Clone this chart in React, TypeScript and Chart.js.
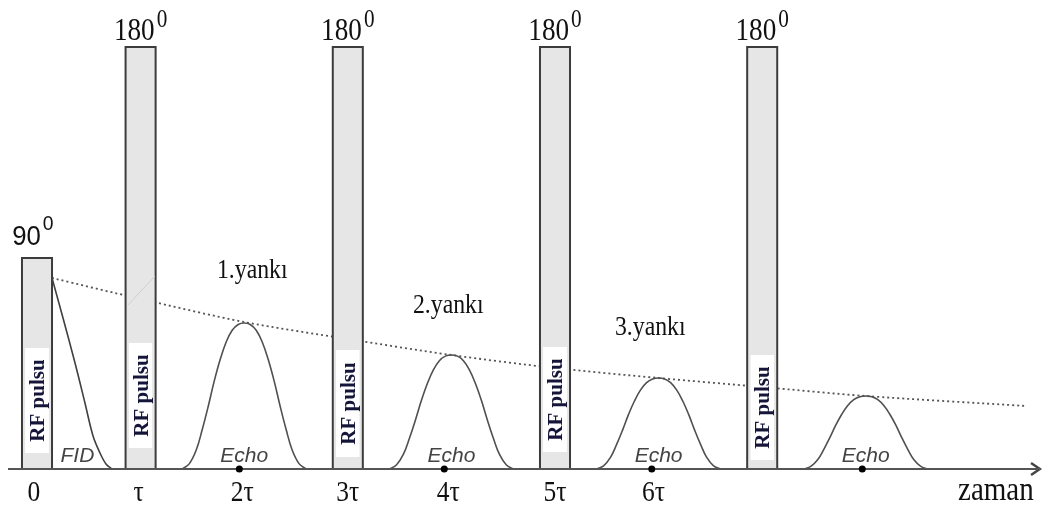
import React, { useEffect, useRef } from "react";
import { Chart, registerables } from "chart.js";

Chart.register(...registerables);

// Time axis in units of τ, amplitude axis in arbitrary signal units (baseline = 0)
const pulseTimes = [0, 1, 3, 5, 7];
const pulseHeights = [211, 422, 422, 422, 422];
const pulseAngles = ["90", "180", "180", "180", "180"];
const angleLabelT = [-0.04, 1, 3, 5, 7];
const pulseWidth = 0.29;
const labelBoxLow = [16, 21, 12, 17, 9];
const labelBoxHigh = [121, 126, 119, 122, 114];
const labelBoxWidth = 0.23;
const pulseText = "RF pulsu";

const echoTimes = [2, 4, 6, 8];
const echoAmplitudes = [146, 114, 91, 73];
const echoDots = [1.953, 3.931, 5.934, 7.966];
const echoShapeOffsets = [
  -0.598, -0.531, -0.463, -0.405, -0.347, -0.29, -0.232, -0.174, -0.116, -0.058, 0,
  0.058, 0.116, 0.174, 0.232, 0.29, 0.347, 0.405, 0.463, 0.531, 0.598,
];
const echoShapeValues = [
  0, 0.035, 0.13, 0.27, 0.43, 0.6, 0.75, 0.87, 0.95, 0.99, 1,
  0.99, 0.95, 0.87, 0.75, 0.6, 0.43, 0.27, 0.13, 0.035, 0,
];

const yankiLabels = ["1.yankı", "2.yankı", "3.yankı"];
const yankiT = [1.737, 3.629, 5.579];
const yankiV = [191, 156, 134];

const fidT = [0.145, 0.251, 0.367, 0.463, 0.541, 0.608, 0.666, 0.724];
const fidV = [191, 151, 106, 66, 33, 16, 5, 0];
const fidLabelT = 0.39;

const decayT = [0.145, 1, 2, 3, 4, 5, 6, 7, 8, 9.55];
const decayV = [191, 170, 147, 130, 114, 101, 91, 82, 73, 63];

const faintT = [0.878, 1.139];
const faintV = [164, 193];

const tickLabels = ["0", "τ", "2τ", "3τ", "4τ", "5τ", "6τ"];
const tickPositions = [-0.03, 0.98, 1.98, 3.0, 3.97, 5.0, 5.95];
const axisTitle = "zaman";
const axisTitleT = 8.89;
const axisRange = [-0.28, 9.68];
const arrowBackT = 9.595;
const arrowHalf = 6;

const X_MIN = -37 / 103.6;
const X_MAX = (1044 - 37) / 103.6;
const Y_MIN = -43;
const Y_MAX = 469;

const PULSE_EDGE = "#3c3c3c";
const PULSE_FILL = "#e6e6e6";
const CURVE = "#505050";

function drawText(
  ctx: CanvasRenderingContext2D,
  text: string,
  x: number,
  y: number,
  font: string,
  color: string,
  align: CanvasTextAlign,
  sx: number
) {
  ctx.save();
  ctx.translate(x, y);
  ctx.scale(sx, 1);
  ctx.font = font;
  ctx.fillStyle = color;
  ctx.textAlign = align;
  ctx.textBaseline = "alphabetic";
  ctx.fillText(text, 0, 0);
  ctx.restore();
}

const textPlugin = {
  id: "diagramTexts",
  afterDatasetsDraw(chart: any) {
    const ctx: CanvasRenderingContext2D = chart.ctx;
    const xs = chart.scales.x;
    const ys = chart.scales.y;
    const px = (t: number) => xs.getPixelForValue(t);
    const py = (v: number) => ys.getPixelForValue(v);

    // Pulse angle labels
    pulseAngles.forEach((a, i) => {
      const sans = i === 0;
      const mainFont = sans ? "28px 'Liberation Sans'" : "32px 'Liberation Serif'";
      const supFont = sans ? "21px 'Liberation Sans'" : "25px 'Liberation Serif'";
      const sx = sans ? 0.92 : 0.85;
      ctx.font = mainFont;
      const mw = ctx.measureText(a).width * sx;
      ctx.font = supFont;
      const sw = ctx.measureText("0").width * sx;
      const total = mw + 2 + sw;
      const left = px(angleLabelT[i]) - total / 2;
      const top = py(pulseHeights[i]);
      const mainBase = top - (sans ? 13 : 7);
      const supBase = top - (sans ? 28 : 20);
      drawText(ctx, a, left, mainBase, mainFont, "#111", "left", sx);
      drawText(ctx, "0", left + mw + 2, supBase, supFont, "#111", "left", sx);
    });

    // RF pulsu rotated labels
    pulseTimes.forEach((t, i) => {
      const cx = px(t);
      const cy = py((labelBoxLow[i] + labelBoxHigh[i]) / 2);
      ctx.save();
      ctx.translate(cx, cy);
      ctx.rotate(-Math.PI / 2);
      ctx.font = "bold 21px 'Liberation Serif'";
      ctx.fillStyle = "#15153a";
      ctx.textAlign = "center";
      ctx.textBaseline = "alphabetic";
      ctx.fillText(pulseText, 0, 7);
      ctx.restore();
    });

    // Echo labels
    echoTimes.forEach((t) => {
      drawText(ctx, "Echo", px(t), py(7), "italic 21px 'Liberation Sans'", "#444", "center", 1);
    });
    drawText(ctx, "FID", px(fidLabelT), py(7), "italic 21px 'Liberation Sans'", "#444", "center", 1);

    // yankı labels
    yankiLabels.forEach((l, i) => {
      drawText(ctx, l, px(yankiT[i]), py(yankiV[i]), "27px 'Liberation Serif'", "#111", "left", 0.88);
    });

    // Tick labels
    tickLabels.forEach((l, i) => {
      drawText(ctx, l, px(tickPositions[i]), py(-32), "30px 'Liberation Serif'", "#111", "center", 0.85);
    });
    drawText(ctx, axisTitle, px(axisTitleT), py(-31), "33px 'Liberation Serif'", "#111", "left", 0.88);
  },
};

export default function App() {
  const ref = useRef<HTMLCanvasElement>(null);

  useEffect(() => {
    if (!ref.current) return;
    const datasets: any[] = [];

    // decaying envelope (behind)
    datasets.push({
      data: decayT.map((t, i) => ({ x: t, y: decayV[i] })),
      showLine: true,
      borderColor: "#555555",
      borderWidth: 1.8,
      borderDash: [2, 3],
      tension: 0.3,
      pointRadius: 0,
      fill: false,
      order: 20,
    });

    // pulses
    pulseTimes.forEach((t, i) => {
      const x0 = t - pulseWidth / 2;
      const x1 = t + pulseWidth / 2;
      datasets.push({
        data: [
          { x: x0, y: 0 },
          { x: x0, y: pulseHeights[i] },
          { x: x1, y: pulseHeights[i] },
          { x: x1, y: 0 },
        ],
        showLine: true,
        borderColor: PULSE_EDGE,
        borderWidth: 2,
        backgroundColor: PULSE_FILL,
        fill: "origin",
        tension: 0,
        pointRadius: 0,
        order: 10,
      });
      const b0 = t - labelBoxWidth / 2;
      const b1 = t + labelBoxWidth / 2;
      datasets.push({
        data: [
          { x: b0, y: labelBoxLow[i] },
          { x: b0, y: labelBoxHigh[i] },
          { x: b1, y: labelBoxHigh[i] },
          { x: b1, y: labelBoxLow[i] },
        ],
        showLine: true,
        borderWidth: 0,
        borderColor: "rgba(0,0,0,0)",
        backgroundColor: "#ffffff",
        fill: { value: labelBoxLow[i] },
        tension: 0,
        pointRadius: 0,
        order: 9,
      });
    });

    // faint line in τ pulse
    datasets.push({
      data: faintT.map((t, i) => ({ x: t, y: faintV[i] })),
      showLine: true,
      borderColor: "#cfcfcf",
      borderWidth: 1,
      pointRadius: 0,
      fill: false,
      order: 8,
    });

    // FID
    datasets.push({
      data: fidT.map((t, i) => ({ x: t, y: fidV[i] })),
      showLine: true,
      borderColor: "#404040",
      borderWidth: 1.6,
      tension: 0.35,
      pointRadius: 0,
      fill: false,
      order: 7,
    });

    // echoes
    echoTimes.forEach((c, i) => {
      datasets.push({
        data: echoShapeOffsets.map((o, k) => ({ x: c + o, y: echoAmplitudes[i] * echoShapeValues[k] })),
        showLine: true,
        borderColor: CURVE,
        borderWidth: 1.6,
        tension: 0.4,
        pointRadius: 0,
        fill: false,
        order: 7,
      });
    });

    // axis line + arrow
    datasets.push({
      data: axisRange.map((t) => ({ x: t, y: 0 })),
      showLine: true,
      borderColor: "#555",
      borderWidth: 2,
      pointRadius: 0,
      fill: false,
      order: 2,
    });
    datasets.push({
      data: [
        { x: arrowBackT, y: arrowHalf },
        { x: axisRange[1], y: 0 },
        { x: arrowBackT, y: -arrowHalf },
      ],
      showLine: true,
      borderColor: "#444",
      borderWidth: 2.5,
      pointRadius: 0,
      fill: false,
      order: 2,
    });

    // echo dots
    datasets.push({
      data: echoDots.map((t) => ({ x: t, y: 0 })),
      showLine: false,
      pointRadius: 3.5,
      pointBackgroundColor: "#000",
      pointBorderWidth: 0,
      order: 1,
    });

    const chart = new Chart(ref.current, {
      type: "scatter",
      data: { datasets },
      options: {
        animation: false,
        responsive: false,
        events: [],
        layout: { padding: 0, autoPadding: false },
        plugins: { legend: { display: false }, tooltip: { enabled: false } },
        scales: {
          x: { type: "linear", min: X_MIN, max: X_MAX, display: false },
          y: { type: "linear", min: Y_MIN, max: Y_MAX, display: false },
        },
      },
      plugins: [textPlugin],
    } as any);
    return () => chart.destroy();
  }, []);

  return (
    <div style={{ position: "fixed", left: 0, top: 0, width: 1044, height: 512, background: "#fff" }}>
      <canvas ref={ref} width={1044} height={512} style={{ display: "block" }} />
    </div>
  );
}
